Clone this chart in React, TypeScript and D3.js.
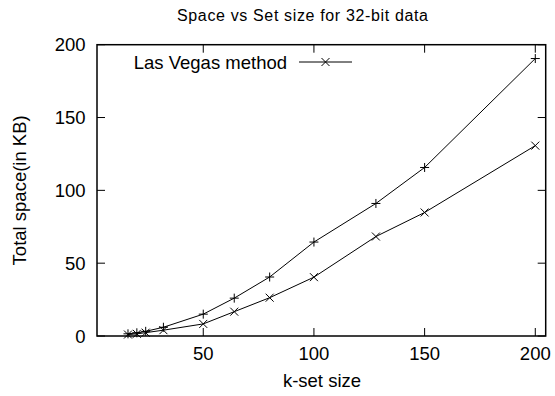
import React from "react";
import * as d3 from "d3";

const setSizes = [16, 20, 24, 32, 50, 64, 80, 100, 128, 150, 200];
const plusSeries = [1.5, 2.2, 3.2, 6, 15, 26, 40.5, 64.5, 91, 115.7, 190.5];
const lasVegas = [1, 1.5, 2.3, 4, 8.3, 16.7, 26.3, 40.4, 68.3, 84.8, 130.7];
const xTicks = [50, 100, 150, 200];
const yTicks = [0, 50, 100, 150, 200];
const titleText = "Space vs Set size for 32-bit data";
const legendLabel = "Las Vegas method";

const W = 555;
const H = 396;
const L = 97, R = 545.7, T = 44.7, B = 336;
const FONT = "'Liberation Sans', Arial, Helvetica, sans-serif";
const FS = 18.5;

function Plus({ x, y }: { x: number; y: number }) {
  const s = 4.5;
  return <path d={`M${x - s},${y}H${x + s}M${x},${y - s}V${y + s}`} stroke="#000" strokeWidth={1} fill="none" />;
}
function Cross({ x, y }: { x: number; y: number }) {
  const s = 4;
  return <path d={`M${x - s},${y - s}L${x + s},${y + s}M${x - s},${y + s}L${x + s},${y - s}`} stroke="#000" strokeWidth={1} fill="none" />;
}

export default function App() {
  const x = d3.scaleLinear().domain([2, 204.7]).range([L, R]);
  const y = d3.scaleLinear().domain([0, 200]).range([B, T]);
  const line = d3.line<[number, number]>().x((d) => x(d[0])).y((d) => y(d[1]));
  const pPlus = setSizes.map((s, i) => [s, plusSeries[i]] as [number, number]);
  const pLV = setSizes.map((s, i) => [s, lasVegas[i]] as [number, number]);
  const tl = 8;
  const legY = 62;
  return (
    <svg width={W} height={H} style={{ position: "absolute", left: 0, top: 0, background: "#fff" }} fontFamily={FONT}>
      <rect x={0} y={0} width={W} height={H} fill="#fff" />
      <text x={177} y={21} fontSize={16} textLength={251} lengthAdjust="spacing">{titleText}</text>
      {xTicks.map((t) => (
        <g key={"x" + t}>
          <line x1={x(t)} x2={x(t)} y1={B} y2={B - tl} stroke="#000" />
          <line x1={x(t)} x2={x(t)} y1={T} y2={T + tl} stroke="#000" />
          <text x={x(t)} y={359.5} textAnchor="middle" fontSize={FS}>{t}</text>
        </g>
      ))}
      {yTicks.map((t) => (
        <g key={"y" + t}>
          <line x1={L} x2={L + tl} y1={y(t)} y2={y(t)} stroke="#000" />
          <line x1={R} x2={R - tl} y1={y(t)} y2={y(t)} stroke="#000" />
          <text x={L - 11.5} y={y(t) + 6.6} textAnchor="end" fontSize={FS}>{t}</text>
        </g>
      ))}
      <path d={line(pPlus) || ""} stroke="#000" strokeWidth={1} fill="none" />
      <path d={line(pLV) || ""} stroke="#000" strokeWidth={1} fill="none" />
      {pPlus.map((p, i) => <Plus key={"p" + i} x={x(p[0])} y={y(p[1])} />)}
      {pLV.map((p, i) => <Cross key={"c" + i} x={x(p[0])} y={y(p[1])} />)}
      <text x={287} y={legY + 6.6} textAnchor="end" fontSize={FS}>{legendLabel}</text>
      <line x1={299} x2={352} y1={legY} y2={legY} stroke="#000" />
      <Cross x={325.5} y={legY} />
      <rect x={L} y={T} width={R - L} height={B - T} fill="none" stroke="#000" strokeWidth={1.5} />
      <text x={322} y={387} textAnchor="middle" fontSize={FS}>k-set size</text>
      <text transform={`translate(26,${(T + B) / 2}) rotate(-90)`} textAnchor="middle" fontSize={FS}>Total space(in KB)</text>
    </svg>
  );
}
